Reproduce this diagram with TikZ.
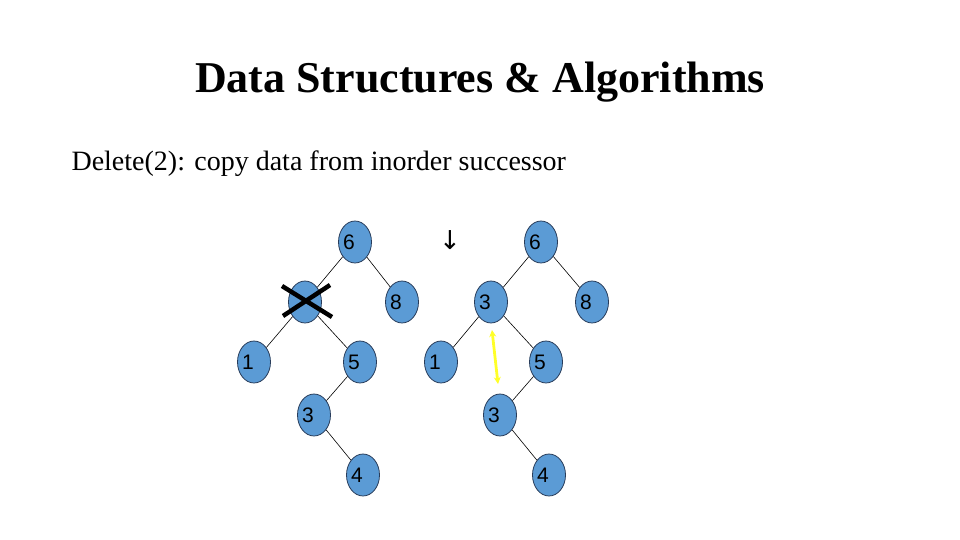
\documentclass[tikz,border=0pt]{standalone}
\usepackage{fontspec}
\setmainfont{Liberation Serif}
\newfontfamily\nodefont{Liberation Sans}
\newfontfamily\symfont{DejaVu Sans}
\usetikzlibrary{shapes.geometric,arrows.meta}
\definecolor{nodefill}{RGB}{91,155,213}
\definecolor{nodeline}{RGB}{40,60,90}
\definecolor{hiyellow}{RGB}{255,255,40}
\tikzset{
  tnode/.style={ellipse,draw=nodeline,fill=nodefill,line width=0.8pt,
    minimum width=33pt,minimum height=42pt,inner sep=0pt},
  lbl/.style={font=\nodefont\fontsize{21}{21}\selectfont,anchor=center},
  edge/.style={draw=black,line width=0.6pt},
}
\begin{document}
\begin{tikzpicture}[x=1pt,y=-1pt]
\useasboundingbox (0,0) rectangle (960,540);
\node[font=\bfseries\fontsize{44}{44}\selectfont] (title) at (480,82) {Data Structures \& Algorithms};
\node[font=\fontsize{28}{28}\selectfont,anchor=west] (sub) at (68,164) {Delete(2): copy data from inorder successor};
% left tree
\node[tnode] (L6) at (355,242) {};
\node[tnode] (L2) at (305,302) {};
\node[tnode] (L8) at (402,302) {};
\node[tnode] (L1) at (254,362) {};
\node[tnode] (L5) at (360,362) {};
\node[tnode] (L3) at (314,415) {};
\node[tnode] (L4) at (363,475) {};
\foreach \n/\t in {L6/6,L8/8,L1/1,L5/5,L3/3,L4/4}
  \node[lbl] (\n t) at ([xshift=-6pt]\n.center) {\t};
\draw[edge] (L6) -- (L2);
\draw[edge] (L6) -- (L8);
\draw[edge] (L2) -- (L1);
\draw[edge] (L2) -- (L5);
\draw[edge] (L5) -- (L3);
\draw[edge] (L3) -- (L4);
% cross
\coordinate (c1) at (282,286);
\coordinate (c2) at (332,317);
\coordinate (c3) at (283,316);
\coordinate (c4) at (330,285);
\draw[line width=4.5pt] (c1) -- (c2);
\draw[line width=4.5pt] (c3) -- (c4);
% arrow symbol
\node[font=\symfont\fontsize{26}{26}\selectfont] (arr) at (450,240) {↓};
% right tree
\node[tnode] (R6) at (541,242) {};
\node[tnode] (R3) at (491,302) {};
\node[tnode] (R8) at (592,302) {};
\node[tnode] (R1) at (441,362) {};
\node[tnode] (R5) at (546,362) {};
\node[tnode] (R3b) at (500,415) {};
\node[tnode] (R4) at (549,475) {};
\foreach \n/\t in {R6/6,R3/3,R8/8,R1/1,R5/5,R3b/3,R4/4}
  \node[lbl] (\n t) at ([xshift=-6pt]\n.center) {\t};
\draw[edge] (R6) -- (R3);
\draw[edge] (R6) -- (R8);
\draw[edge] (R3) -- (R1);
\draw[edge] (R3) -- (R5);
\draw[edge] (R5) -- (R3b);
\draw[edge] (R3b) -- (R4);
% yellow double arrow
\coordinate (y1) at (492,330);
\coordinate (y2) at (498,384);
\draw[hiyellow,line width=2.8pt,{Stealth[length=7pt,width=7pt]}-{Stealth[length=7pt,width=7pt]}] (y1) -- (y2);
\end{tikzpicture}
\end{document}
